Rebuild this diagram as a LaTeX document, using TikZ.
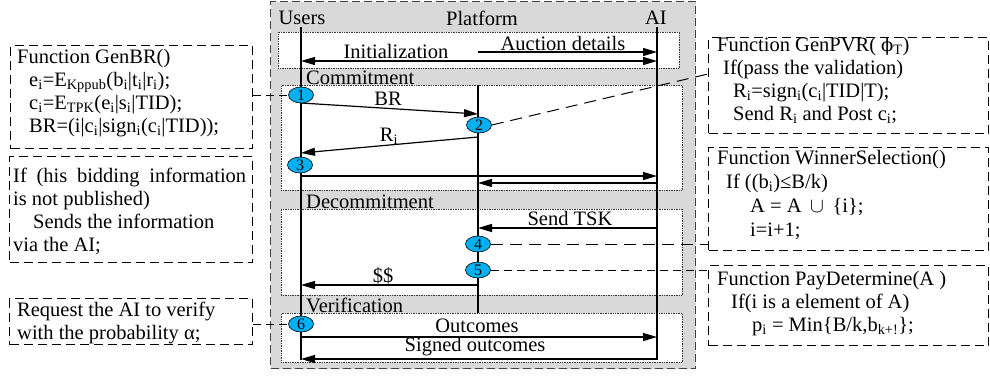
\documentclass[tikz,border=0pt]{standalone}
\usepackage{fontspec}
\setmainfont{Liberation Serif}
\newfontfamily\dejaserif{DejaVu Serif}
\usetikzlibrary{arrows.meta,shapes.geometric}
\definecolor{bggray}{RGB}{217,217,217}
\definecolor{stepblue}{RGB}{0,176,240}
\newcommand{\sbs}[1]{\textsubscript{#1}}
\begin{document}
\begin{tikzpicture}[x=1pt,y=-1pt,
  every node/.style={font=\fontsize{20.5}{23}\selectfont, inner sep=0pt},
  outerframe/.style={draw=black!75, fill=bggray, dash pattern=on 8pt off 4pt, line width=1.4pt, anchor=north west},
  phasebox/.style={draw=black!80, fill=white, densely dotted, line width=0.7pt, anchor=north west},
  codebox/.style={draw, dash pattern=on 9pt off 5pt, line width=1pt, anchor=north west},
  codetext/.style={align=left, anchor=north west},
  lifeline/.style={line width=1.8pt},
  msg/.style={line width=1.2pt, -{Triangle[length=14pt,width=8pt]}},
  dmsg/.style={line width=1.2pt, {Triangle[length=14pt,width=8pt]}-{Triangle[length=14pt,width=8pt]}},
  marker/.style={ellipse, draw, line width=0.6pt, fill=stepblue, minimum width=25pt, minimum height=16pt, inner sep=0pt, font=\fontsize{16}{16}\selectfont},
  longlink/.style={line width=1pt, dash pattern=on 12pt off 7pt},
  shortlink/.style={line width=1pt, dash pattern=on 8pt off 5pt},
]
\useasboundingbox (0,0) rectangle (990,376);

% outer frame and phase boxes
\node[outerframe, minimum width=425pt, minimum height=367pt] (frame) at (270,1) {};
\node[phasebox, minimum width=401pt, minimum height=36pt] (initbox) at (278,32) {};
\node[phasebox, minimum width=401pt, minimum height=105pt] (commitbox) at (281,85) {};
\node[phasebox, minimum width=401pt, minimum height=86pt] (decommitbox) at (281,209) {};
\node[phasebox, minimum width=401pt, minimum height=49pt] (verifbox) at (281,313) {};

% headers
\node (users) at (302,18) {Users};
\node (platform) at (482,18) {Platform};
\node (ai) at (656,18) {AI};

% phase labels
\node[anchor=west] (lcommit) at (306,78) {Commitment};
\node[anchor=west] (ldecommit) at (306,202) {Decommitment};
\node[anchor=west] (lverif) at (306,305) {Verification};

% lifelines
\coordinate (uTop) at (301,27);
\coordinate (uBot) at (301,360);
\coordinate (pTop) at (478,85);
\coordinate (pBot) at (478,313);
\coordinate (aTop) at (657,27);
\coordinate (aBot) at (657,360);
\draw[lifeline] (uTop) -- (uBot);
\draw[lifeline] (pTop) -- (pBot);
\draw[lifeline] (aTop) -- (aBot);

% message end points
\coordinate (initU) at (301,61);   \coordinate (initA) at (657,61);
\coordinate (aucP) at (478,52);    \coordinate (aucA) at (657,52);
\coordinate (brU) at (301,103);    \coordinate (brP) at (478,114);
\coordinate (riP) at (478,137);    \coordinate (riU) at (301,153);
\coordinate (m3U) at (301,176);    \coordinate (m3A) at (657,176);
\coordinate (m3A2) at (657,183);   \coordinate (m3P) at (478,183);
\coordinate (tskA) at (657,228);   \coordinate (tskP) at (478,228);
\coordinate (payP) at (478,285);   \coordinate (payU) at (301,285);
\coordinate (outU) at (301,337);   \coordinate (outA) at (657,337);
\coordinate (sigA) at (657,359);   \coordinate (sigU) at (301,359);

\draw[dmsg] (initU) -- (initA);
\draw[msg] (aucP) -- (aucA);
\draw[msg] (brU) -- (brP);
\draw[msg] (riP) -- (riU);
\draw[msg] (m3U) -- (m3A);
\draw[msg] (m3A2) -- (m3P);
\draw[msg] (tskA) -- (tskP);
\draw[msg] (payP) -- (payU);
\draw[msg] (outU) -- (outA);
\draw[msg] (sigA) -- (sigU);

% message labels
\node (linit) at (396,51) {Initialization};
\node (lauc) at (563,43) {Auction details};
\node (lbr) at (388,99) {BR};
\node (lri) at (389,136) {R\sbs{i}};
\node (ltsk) at (570,218) {Send TSK};
\node (lpay) at (383,276) {\$\$};
\node (lout) at (477,326) {Outcomes};
\node (lsig) at (475,347) {Signed outcomes};

% step markers
\node[marker] (m1) at (301,95) {1};
\node[marker] (m2) at (479,125) {2};
\node[marker] (m3) at (300,165) {3};
\node[marker] (m4) at (478,244) {4};
\node[marker] (m5) at (478,270) {5};
\node[marker] (m6) at (301,324) {6};

% left code boxes
\node[codebox, minimum width=242pt, minimum height=103pt] (genbrbox) at (10,45) {};
\node[codetext] (genbrtext) at (17,49) {Function GenBR()\\
\hspace*{12pt}e\sbs{i}=E\sbs{Kppub}(b\sbs{i}|t\sbs{i}|r\sbs{i});\\
\hspace*{12pt}c\sbs{i}=E\sbs{TPK}(e\sbs{i}|s\sbs{i}|TID);\\
\hspace*{12pt}BR=(i|c\sbs{i}|sign\sbs{i}(c\sbs{i}|TID));};

\node[codebox, minimum width=243pt, minimum height=106pt] (ifbox) at (9,156) {};
\node[codetext] (iftext) at (13,168) {\makebox[233pt][s]{If (his bidding information}\\
is not published)\\
\hspace*{20pt}Sends the information\\
via the AI;};

\node[codebox, minimum width=243pt, minimum height=46pt] (reqbox) at (9,298) {};
\node[codetext] (reqtext) at (17,302) {Request the AI to verify\\
with the probability α;};

% right code boxes
\node[codebox, minimum width=280pt, minimum height=96pt] (pvrbox) at (708,37) {};
\node[codetext] (pvrtext) at (717,37) {Function GenPVR( {\dejaserif\fontsize{18}{18}\selectfont ϕ}\sbs{T})\\
\hspace*{6pt}If(pass the validation)\\
\hspace*{16pt}R\sbs{i}=sign\sbs{i}(c\sbs{i}|TID|T);\\
\hspace*{16pt}Send R\sbs{i} and Post c\sbs{i};};

\node[codebox, minimum width=280pt, minimum height=103pt] (winbox) at (708,147) {};
\node[codetext, font=\fontsize{20.5}{24}\selectfont] (wintext) at (717,150) {Function WinnerSelection()\\
\hspace*{9pt}If ((b\sbs{i})≤B/k)\\
\hspace*{33pt}A = A \,$\cup$\, \{i\};\\
\hspace*{33pt}i=i+1;};

\node[codebox, minimum width=280pt, minimum height=80pt] (paybox) at (708,265) {};
\node[codetext] (paytext) at (717,271) {Function PayDetermine(A )\\
\hspace*{14pt}If(i is a element of A)\\
\hspace*{35pt}p\sbs{i} = Min\{B/k,b\sbs{k+!}\};};

% links from steps to code boxes
\coordinate (pvrIn) at (708,74);
\draw[shortlink] (genbrbox.east |- m1) -- (m1.west);
\draw[longlink] (m2.east) -- (pvrIn);
\draw[longlink] (m4.east) -- (m4 -| winbox.west);
\draw[shortlink] (m5.east) -- (m5 -| paybox.west);
\draw[shortlink] (reqbox.east |- m6) -- (m6.west);
\end{tikzpicture}
\end{document}
